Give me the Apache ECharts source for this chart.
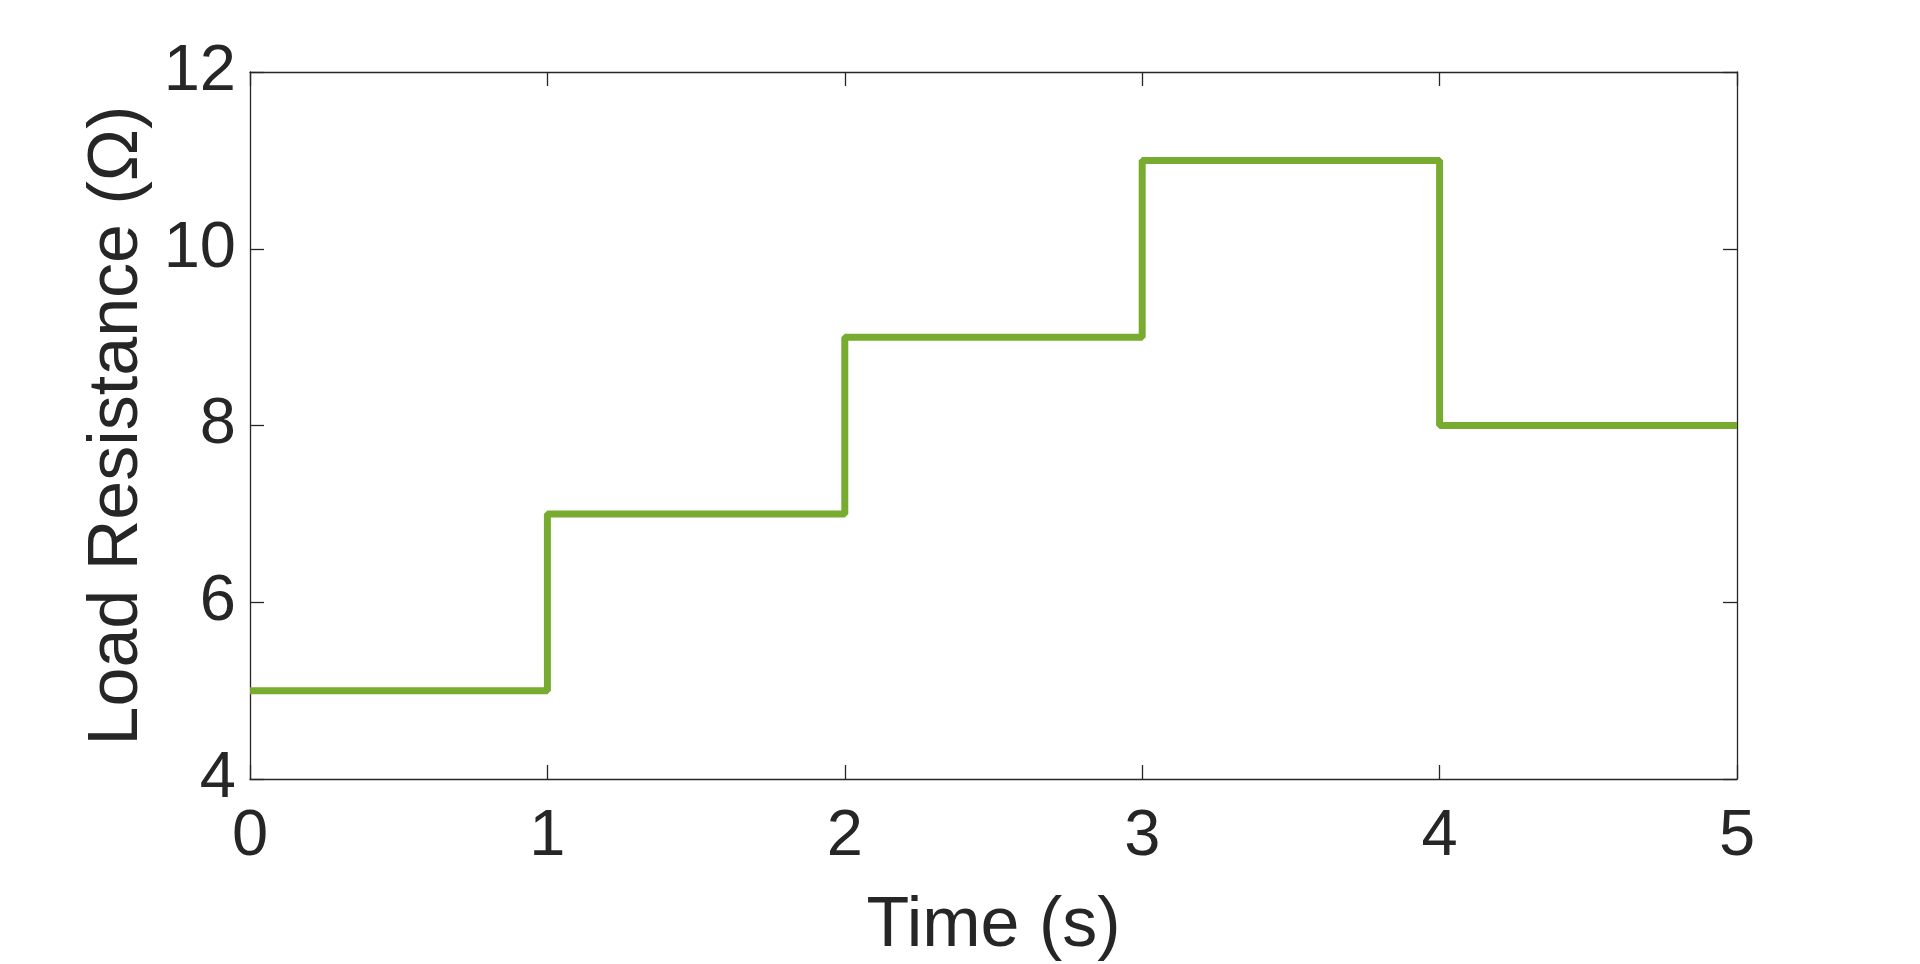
<!DOCTYPE html>
<html>
<head>
<meta charset="utf-8">
<script src="https://cdn.jsdelivr.net/npm/echarts@6/dist/echarts.min.js"></script>
<style>
html,body{margin:0;padding:0;background:#fff;}
#chart{width:1920px;height:964px;}
</style>
</head>
<body>
<div id="chart"></div>
<script>
// Step changes of load resistance
const stepTimes = [0, 1, 2, 3, 4, 5];
const stepValues = [5, 7, 9, 11, 8, 8];
const xTicks = [0, 1, 2, 3, 4, 5];
const yTicks = [4, 6, 8, 10, 12];
const xTitle = 'Time (s)';
const yTitle = 'Load Resistance (\u03A9)';

const data = stepTimes.map((t, i) => [t, stepValues[i]]);
const txt = '#262626';
const fontFam = '"Liberation Sans", Arial, Helvetica, sans-serif';

function line() { return { show: true, onZero: false, lineStyle: { color: txt, width: 1.3 } }; }
function tick() { return { show: true, inside: true, length: 14, lineStyle: { color: txt, width: 1.3 } }; }

const chart = echarts.init(document.getElementById('chart'));
chart.setOption({
  animation: false,
  backgroundColor: '#ffffff',
  grid: { left: 250, right: 183, top: 72, bottom: 185, containLabel: false, outerBoundsMode: 'none' },
  xAxis: [{
    type: 'value', min: xTicks[0], max: xTicks[xTicks.length - 1], interval: 1,
    position: 'bottom',
    name: xTitle, nameLocation: 'middle', nameGap: 113,
    nameTextStyle: { color: txt, fontSize: 70, fontFamily: fontFam },
    axisLine: line(), axisTick: tick(),
    axisLabel: { color: txt, fontSize: 65, fontFamily: fontFam, margin: 26 },
    splitLine: { show: false }
  }, {
    type: 'value', min: xTicks[0], max: xTicks[xTicks.length - 1], interval: 1,
    position: 'top',
    axisLine: line(), axisTick: tick(),
    axisLabel: { show: false }, splitLine: { show: false }
  }],
  yAxis: [{
    type: 'value', min: yTicks[0], max: yTicks[yTicks.length - 1], interval: 2,
    position: 'left',
    name: yTitle, nameLocation: 'middle', nameGap: 74,
    nameTextStyle: { color: txt, fontSize: 70, fontFamily: fontFam },
    axisLine: line(), axisTick: tick(),
    axisLabel: { color: txt, fontSize: 65, fontFamily: fontFam, margin: 14 },
    splitLine: { show: false }
  }, {
    type: 'value', min: yTicks[0], max: yTicks[yTicks.length - 1], interval: 2,
    position: 'right',
    axisLine: line(), axisTick: tick(),
    axisLabel: { show: false }, splitLine: { show: false }
  }],
  series: [{
    type: 'line',
    step: 'end',
    data: data,
    showSymbol: false,
    lineStyle: { color: '#77AC30', width: 7 },
    itemStyle: { color: '#77AC30' }
  }]
});
</script>
</body>
</html>
